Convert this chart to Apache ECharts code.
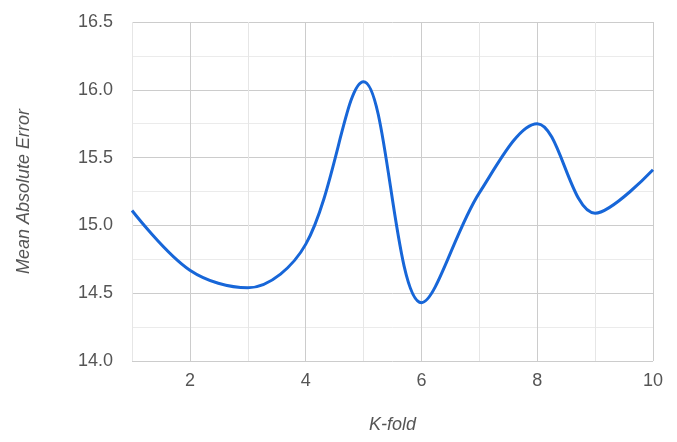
<!DOCTYPE html>
<html><head><meta charset="utf-8">
<script src="https://cdn.jsdelivr.net/npm/echarts@6/dist/echarts.min.js"></script>
<style>html,body{margin:0;padding:0;background:#fff}#c{width:677px;height:442px}</style>
</head><body><div id="c"></div>
<script>
const kFolds = [1, 2, 3, 4, 5, 6, 7, 8, 9, 10];
const maeValues = [15.11, 14.67, 14.54, 14.86, 16.06, 14.43, 15.24, 15.75, 15.09, 15.41];
const xAxisTitle = 'K-fold';
const yAxisTitle = 'Mean Absolute Error';

const chart = echarts.init(document.getElementById('c'));
chart.setOption({
  animation: false,
  grid: { left: 132, right: 24, top: 22, bottom: 81 },
  xAxis: {
    type: 'value', min: 1, max: 10, interval: 1,
    name: xAxisTitle, nameLocation: 'middle', nameGap: 55,
    nameTextStyle: { fontFamily: 'Arial', fontStyle: 'italic', fontSize: 18, color: '#555' },
    axisLine: { show: false }, axisTick: { show: false },
    axisLabel: { fontFamily: 'Arial', fontSize: 18, color: '#555', margin: 11,
      formatter: v => (v % 2 === 0 ? String(v) : '') },
    splitLine: { show: true, showMinLine: true, showMaxLine: true, lineStyle: { color: ['#e6e6e6', '#cccccc'], width: 1 } }
  },
  yAxis: {
    type: 'value', min: 14, max: 16.5, interval: 0.5,
    name: yAxisTitle, nameLocation: 'middle', nameGap: 99,
    nameTextStyle: { fontFamily: 'Arial', fontStyle: 'italic', fontSize: 18, color: '#555' },
    axisLine: { show: false }, axisTick: { show: false },
    axisLabel: { fontFamily: 'Arial', fontSize: 18, color: '#555', margin: 19,
      formatter: v => v.toFixed(1) },
    splitLine: { show: true, lineStyle: { color: '#cccccc', width: 1 } },
    minorTick: { show: false, splitNumber: 2 },
    minorSplitLine: { show: true, lineStyle: { color: '#ebebeb', width: 1 } }
  },
  series: [{
    type: 'line',
    data: kFolds.map((k, i) => [k, maeValues[i]]),
    smooth: 0.35,
    showSymbol: false,
    lineStyle: { color: '#1766d8', width: 3 }
  }]
});
</script></body></html>
